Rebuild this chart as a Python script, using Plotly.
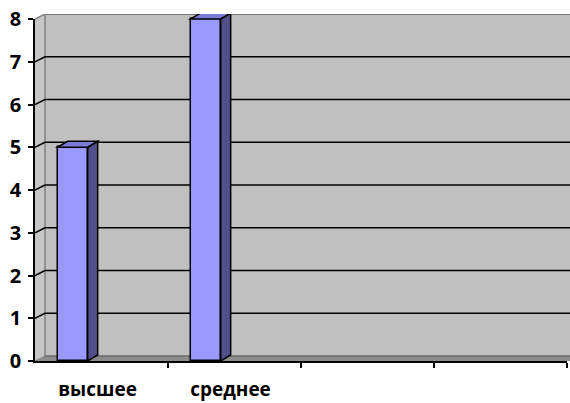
import plotly.graph_objects as go

# ---- data ----
categories = ["высшее", "среднее", "", ""]
values = [5, 8]
y_ticks = [0, 1, 2, 3, 4, 5, 6, 7, 8]

# ---- geometry (pixels) ----
W, H = 570, 403
ML, MR, MT, MB = 35, 0, 14, 42
FRONT_W, FRONT_H = 532, 342          # front axis extents in px
N = len(categories)
YMAX = max(y_ticks)
PXX = FRONT_W / N                    # px per category
PXY = FRONT_H / YMAX                 # px per value unit
DXW, DYW = 10 / PXX, 5 / PXY         # wall depth (data units)
DXB, DYB = 10 / PXX, 6 / PXY         # bar depth (data units)
X0 = -0.5
XMAX = X0 + (W - ML - MR) / PXX
YTOP = YMAX + (H - MT - MB - FRONT_H) / PXY
BAR_W = 0.226
BAR_OFF = -0.33

FRONT = "#9999FF"
SIDE = "#4F4F8A"
TOP = "#7C7CD6"

fig = go.Figure()
xs = list(range(len(values)))
fig.add_trace(go.Bar(
    x=xs, y=values, width=BAR_W, offset=BAR_OFF,
    marker=dict(color=FRONT, line=dict(color="black", width=1.5)),
    xaxis="x", yaxis="y", showlegend=False, hoverinfo="skip",
))
# empty trace that carries the visible front axes
fig.add_trace(go.Scatter(x=[None], y=[None], xaxis="x2", yaxis="y2",
                         showlegend=False, hoverinfo="skip"))

shapes = []
# back wall
shapes.append(dict(type="rect", xref="x", yref="y", x0=X0 + DXW, x1=XMAX,
                   y0=DYW, y1=YMAX + DYW, fillcolor="#C0C0C0",
                   line=dict(width=0), layer="below"))
# left wall
shapes.append(dict(type="path", xref="x", yref="y",
                   path=f"M {X0},0 L {X0+DXW},{DYW} L {X0+DXW},{YMAX+DYW} L {X0},{YMAX} Z",
                   fillcolor="#C6C6C6", line=dict(width=0), layer="below"))
# floor
shapes.append(dict(type="path", xref="x", yref="y",
                   path=f"M {X0},0 L {X0+DXW},{DYW} L {XMAX},{DYW} L {XMAX},0 Z",
                   fillcolor="#8C8C8C", line=dict(width=0), layer="below"))
shapes.append(dict(type="line", xref="x", yref="y", x0=X0 + DXW, x1=XMAX,
                   y0=DYW, y1=DYW, line=dict(color="#6A6A6A", width=1.5), layer="below"))
# wall edges
shapes.append(dict(type="line", xref="x", yref="y", x0=X0 + DXW, x1=X0 + DXW,
                   y0=DYW, y1=YMAX + DYW, line=dict(color="#808080", width=1.5), layer="below"))
shapes.append(dict(type="line", xref="x", yref="y", x0=X0 + DXW, x1=XMAX,
                   y0=YMAX + DYW, y1=YMAX + DYW, line=dict(color="#7A7A7A", width=2), layer="below"))
shapes.append(dict(type="line", xref="x", yref="y", x0=X0, x1=X0 + DXW,
                   y0=YMAX, y1=YMAX + DYW, line=dict(color="#808080", width=1.5), layer="below"))
shapes.append(dict(type="line", xref="x", yref="y", x0=X0, x1=X0 + DXW,
                   y0=0, y1=DYW, line=dict(color="#808080", width=1), layer="below"))
# grid lines
for v in y_ticks[1:-1]:
    shapes.append(dict(type="line", xref="x", yref="y", x0=X0 + DXW, x1=XMAX,
                       y0=v + DYW, y1=v + DYW, line=dict(color="black", width=1.5), layer="below"))
    shapes.append(dict(type="line", xref="x", yref="y", x0=X0, x1=X0 + DXW,
                       y0=v, y1=v + DYW, line=dict(color="black", width=1.5), layer="below"))
# bar 3D faces
for xi, v in zip(xs, values):
    xl = xi + BAR_OFF
    xr = xl + BAR_W
    shapes.append(dict(type="path", xref="x", yref="y",
                       path=f"M {xr},0 L {xr+DXB},{DYB} L {xr+DXB},{v+DYB} L {xr},{v} Z",
                       fillcolor=SIDE, line=dict(color="black", width=1.5)))
    shapes.append(dict(type="path", xref="x", yref="y",
                       path=f"M {xl},{v} L {xl+DXB},{v+DYB} L {xr+DXB},{v+DYB} L {xr},{v} Z",
                       fillcolor=TOP, line=dict(color="black", width=1.5)))

ytickfont = dict(family="Open Sans", size=20, color="black", weight="bold")
xtickfont = dict(family="Open Sans", size=19, color="black", weight="bold")

fig.update_layout(
    width=W, height=H,
    margin=dict(l=ML, r=MR, t=MT, b=MB, pad=0),
    paper_bgcolor="white", plot_bgcolor="rgba(0,0,0,0)",
    shapes=shapes,
    bargap=0,
    xaxis=dict(range=[X0, XMAX], visible=False, fixedrange=True, automargin=False),
    yaxis=dict(range=[0, YTOP], visible=False, fixedrange=True, automargin=False),
    xaxis2=dict(
        domain=[0, FRONT_W / (W - ML - MR)], range=[X0, X0 + N],
        anchor="y2", side="bottom", automargin=False, fixedrange=True,
        showline=True, linecolor="black", linewidth=2,
        showgrid=False, zeroline=False,
        tickmode="array", tickvals=[i - 0.03 for i in range(N)], ticktext=categories,
        ticks="", tickfont=xtickfont, ticklabelstandoff=10,
        minor=dict(tickmode="array", tickvals=[i + 0.5 for i in range(N)],
                   ticks="outside", ticklen=5, tickcolor="black", tickwidth=1.5,
                   showgrid=False),
    ),
    yaxis2=dict(
        domain=[0, FRONT_H / (H - MT - MB)], range=[0, YMAX],
        anchor="x2", side="left", automargin=False, fixedrange=True,
        showline=True, linecolor="black", linewidth=1.5,
        showgrid=False, zeroline=False,
        tickmode="array", tickvals=y_ticks,
        ticks="outside", ticklen=5, tickcolor="black", tickwidth=1.5,
        tickfont=ytickfont, ticklabelstandoff=3,
    ),
)

fig.write_html("out.html", config={"displayModeBar": False},
               post_script="document.body.style.margin='0';document.body.style.overflow='hidden';")
